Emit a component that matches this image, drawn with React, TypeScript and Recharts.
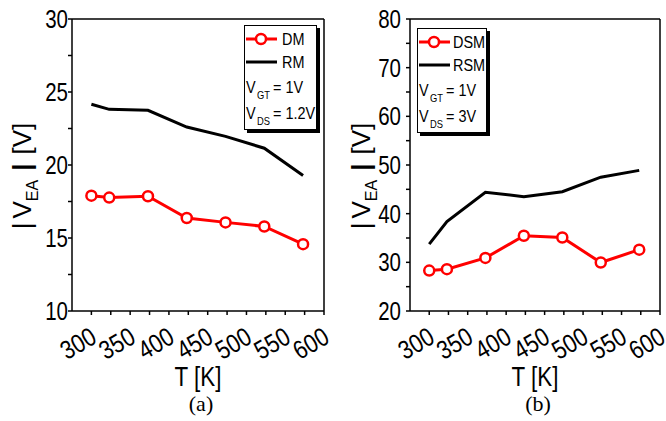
import React from 'react';
import { LineChart, Line, XAxis, YAxis, Legend } from 'recharts';

// temperature points shared by both panels
const TEMPS = [300, 323, 373, 423, 473, 523, 573];

// panel (a)
const DM = [17.9, 17.77, 17.86, 16.37, 16.07, 15.79, 14.58];
const RM = [24.16, 23.81, 23.75, 22.6, 21.96, 21.15, 19.28];

// panel (b)
const DSM = [28.3, 28.6, 30.9, 35.46, 35.1, 29.96, 32.6];
const RSM = [33.75, 38.4, 44.4, 43.5, 44.5, 47.5, 48.9];

const X_TICKS = [300, 325, 350, 375, 400, 425, 450, 475, 500, 525, 550, 575, 600];
const Y_TICKS_A = [10, 12.5, 15, 17.5, 20, 22.5, 25, 27.5, 30];
const Y_TICKS_B = [20, 25, 30, 35, 40, 45, 50, 55, 60, 65, 70, 75, 80];

const SANS = "'Liberation Sans', Arial, sans-serif";
const SERIF = "'Liberation Serif', 'Times New Roman', serif";
const RED = '#ff0000';

// narrow-looking text: Arial metrics squeezed horizontally
const NText: React.FC<{ x: number; y: number; size: number; anchor?: string; rotate?: number; sx?: number; children: React.ReactNode }> =
    ({ x, y, size, anchor = 'start', rotate = 0, sx = 0.82, children }) => (
        <text transform={`translate(${x},${y}) rotate(${rotate}) scale(${sx},1)`} textAnchor={anchor} fontFamily={SANS} fontSize={size} fill="#000">
            {children}
        </text>
    );

interface PanelProps {
    tag: string;
    dotName: string;
    lineName: string;
    dotVals: number[];
    lineVals: number[];
    yDomain: [number, number];
    yTicks: number[];
    yMajor: number;
    vds: string;
    yAxisWidth: number;
    yTickShift: number;
    rightMargin: number;
    labelX: number;
    legendBox: { left: number; top: number; width: number; height: number; textX: number };
}

const XTick = (props: any) => {
    const { x, y, payload } = props;
    if (payload.value % 50 !== 0) return <g />;
    return <NText x={x + 7} y={y + 25} size={26} anchor="end" rotate={-30} sx={0.84}>{payload.value}</NText>;
};

const makeYTick = (major: number, shift: number) => (props: any) => {
    const { x, y, payload } = props;
    if (payload.value % major !== 0) return <g />;
    return <NText x={x + shift} y={y + 9} size={25} anchor="end">{payload.value}</NText>;
};

const makeLegend = (vds: string, box: PanelProps['legendBox']) => (props: any) => {
    const { width: w, height: h, textX } = box;
    const items = props.payload || [];
    return (
        <svg width={w + 4} height={h + 4} style={{ display: 'block' }}>
            <rect x={3} y={3} width={w} height={h} fill="#000" />
            <rect x={0.5} y={0.5} width={w - 1} height={h - 1} fill="#fff" stroke="#000" strokeWidth={1} />
            {items.map((entry: any, i: number) => {
                const cy = 14 + i * 23;
                return (
                    <g key={entry.value}>
                        <line x1={2} x2={33} y1={cy} y2={cy} stroke={entry.color} strokeWidth={3} />
                        {entry.type === 'circle' && <circle cx={17} cy={cy} r={5} fill="#fff" stroke={entry.color} strokeWidth={2.5} />}
                        <NText x={textX} y={cy + 6} size={17} sx={0.85}>{entry.value}</NText>
                    </g>
                );
            })}
            <NText x={2} y={68} size={17} sx={0.85}>V</NText>
            <NText x={13} y={74} size={11} sx={0.85}>GT</NText>
            <NText x={29} y={68} size={17} sx={0.85}>= 1V</NText>
            <NText x={2} y={94} size={17} sx={0.85}>V</NText>
            <NText x={13} y={100} size={11} sx={0.85}>DS</NText>
            <NText x={29} y={94} size={17} sx={0.85}>= {vds}</NText>
        </svg>
    );
};

const Panel: React.FC<PanelProps> = (p) => {
    const rows = TEMPS.map((t, i) => ({ T: t, dot: p.dotVals[i], line: p.lineVals[i] }));
    const axisStyle = { stroke: '#000', strokeWidth: 1.5 };

    return (
        <LineChart width={333} height={421} data={rows} margin={{ top: 19, right: p.rightMargin, bottom: 0, left: 0 }}>
            <XAxis
                xAxisId="b" dataKey="T" type="number" domain={[275, 600]} ticks={X_TICKS} allowDataOverflow
                height={110} tickSize={4} axisLine={axisStyle} tickLine={axisStyle} tick={XTick} interval={0}
                label={(lp: any) => {
                    const vb = lp.viewBox;
                    const cx = vb.x + vb.width / 2;
                    return (
                        <g>
                            <NText x={cx} y={386} size={28} anchor="middle" sx={0.8}>T [K]</NText>
                            <text x={cx + 3} y={411} textAnchor="middle" fontFamily={SERIF} fontSize={22} fill="#000">({p.tag})</text>
                        </g>
                    );
                }}
            />
            <XAxis
                xAxisId="t" orientation="top" mirror dataKey="T" type="number" domain={[275, 600]} ticks={X_TICKS}
                allowDataOverflow height={1} tickSize={4} axisLine={axisStyle} tickLine={axisStyle} tick={false} interval={0}
            />
            <YAxis
                yAxisId="l" type="number" domain={p.yDomain} ticks={p.yTicks} allowDataOverflow width={p.yAxisWidth}
                tickSize={4} axisLine={axisStyle} tickLine={axisStyle} tick={makeYTick(p.yMajor, p.yTickShift)} interval={0}
                label={() => (
                    <text transform={`translate(${p.labelX}, 176) rotate(-90)`} textAnchor="middle" fontFamily={SANS} fontSize={26} fill="#000">
                        <tspan>|</tspan>
                        <tspan dx={4}>V</tspan>
                        <tspan fontSize={16} dy={7}>EA</tspan>
                        <tspan dy={-7} dx={9} fontWeight="bold">|</tspan>
                        <tspan dx={9}>[V]</tspan>
                    </text>
                )}
            />
            <YAxis
                yAxisId="r" orientation="right" mirror type="number" domain={p.yDomain} ticks={p.yTicks} allowDataOverflow
                width={1} tickSize={4} axisLine={axisStyle} tickLine={axisStyle} tick={false} interval={0}
            />
            <Legend
                layout="horizontal" verticalAlign="middle" align="center"
                wrapperStyle={{ left: p.legendBox.left, top: p.legendBox.top, width: p.legendBox.width + 4, height: p.legendBox.height + 4 }}
                content={makeLegend(p.vds, p.legendBox)}
            />
            <Line
                xAxisId="b" yAxisId="l" dataKey="dot" name={p.dotName} stroke={RED} strokeWidth={3} legendType="circle"
                dot={{ r: 5, fill: '#fff', stroke: RED, strokeWidth: 2.5 }} isAnimationActive={false}
            />
            <Line
                xAxisId="b" yAxisId="l" dataKey="line" name={p.lineName} stroke="#000" strokeWidth={3} legendType="line"
                dot={false} isAnimationActive={false}
            />
        </LineChart>
    );
};

export default function App() {
    return (
        <div style={{ position: 'absolute', left: 0, top: 0, width: 666, height: 421, background: '#fff', display: 'flex' }}>
            <Panel
                tag="a" dotName="DM" lineName="RM" dotVals={DM} lineVals={RM}
                yDomain={[10, 30]} yTicks={Y_TICKS_A} yMajor={5} vds="1.2V"
                yAxisWidth={72} yTickShift={2} rightMargin={9} labelX={31}
                legendBox={{ left: 244, top: 25, width: 73, height: 105, textX: 38 }}
            />
            <Panel
                tag="b" dotName="DSM" lineName="RSM" dotVals={DSM} lineVals={RSM}
                yDomain={[20, 80]} yTicks={Y_TICKS_B} yMajor={10} vds="3V"
                yAxisWidth={77} yTickShift={-3} rightMargin={6} labelX={37}
                legendBox={{ left: 84, top: 28, width: 70, height: 105, textX: 36 }}
            />
        </div>
    );
}
